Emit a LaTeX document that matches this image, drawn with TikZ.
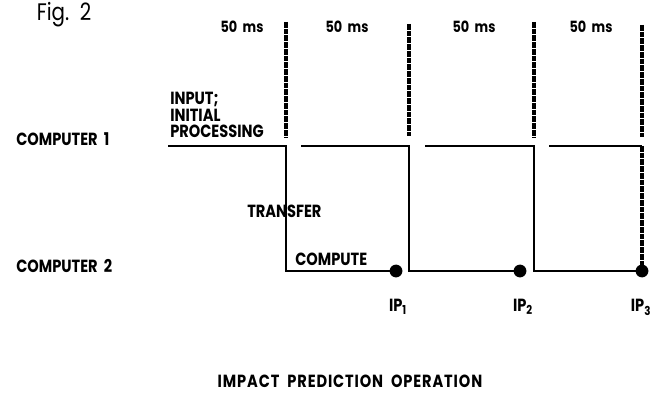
\documentclass[tikz,border=0pt]{standalone}
\usepackage{fontspec}
\setmainfont{Poppins}[FakeStretch=0.83]
\usetikzlibrary{positioning}

\begin{document}
\begin{tikzpicture}[
  x=0.025cm, y=-0.025cm,
  lbl/.style={font=\bfseries\fontsize{12.5}{13}\selectfont, inner sep=0pt, anchor=west},
  tick/.style={font=\bfseries\fontsize{11}{12}\selectfont, inner sep=0pt},
  sig/.style={line width=1.9pt, line join=miter},
  sep/.style={line width=2.2pt, dash pattern=on 4pt off 0.8pt},
  dot/.style={circle, fill, inner sep=0pt, minimum size=0.32cm}
]
\useasboundingbox (0,0) rectangle (663,393);

\node[font=\fontsize{17}{20}\selectfont, inner sep=0pt] (fig) at (64,15) {Fig.~~2};

% time slots
\node[tick] (t1) at (242,27) {50~~ms};
\node[tick] (t2) at (347,27) {50~~ms};
\node[tick] (t3) at (474,27) {50~~ms};
\node[tick] (t4) at (591,27) {50~~ms};

\coordinate (s1t) at (286,22);  \coordinate (s1b) at (286,137);
\coordinate (s2t) at (409,24);  \coordinate (s2b) at (409,136);
\coordinate (s3t) at (534,22);  \coordinate (s3b) at (534,137);
\coordinate (s4t) at (642,25);  \coordinate (s4b) at (642,137);
\draw[sep] (s1t) -- (s1b);
\draw[sep] (s2t) -- (s2b);
\draw[sep] (s3t) -- (s3b);
\draw[sep] (s4t) -- (s4b);

% computer lines
\node[lbl] (c1) at (16,139) {COMPUTER~~1};
\node[lbl] (c2) at (16,266) {COMPUTER~~2};

\coordinate (a0) at (168,146);
\coordinate (a1) at (286,146); \coordinate (b1) at (286,271);
\coordinate (a2s) at (301,146); \coordinate (a2) at (409,146); \coordinate (b2) at (409,271);
\coordinate (a3s) at (425,146); \coordinate (a3) at (534,146); \coordinate (b3) at (534,271);
\coordinate (a4s) at (549,146); \coordinate (a4) at (642,146);

\node[dot] (ip1) at (396,271) {};
\node[dot] (ip2) at (520,271) {};
\node[dot] (ip3) at (642,271) {};

\draw[sig] (a0) -- (a1) -- (b1) -- (ip1.center);
\draw[sig] (a2s) -- (a2) -- (b2) -- (ip2.center);
\draw[sig] (a3s) -- (a3) -- (b3) -- (ip3.center);
\draw[sig] (a4s) -- (a4);
\draw[sep] (a4) -- (ip3.center);

\node[lbl, align=left, font=\bfseries\fontsize{12.5}{11.5}\selectfont] (inp) at (170,115) {INPUT;\\INITIAL\\PROCESSING};
\node[lbl] (xfer) at (247,211) {TRANSFER};
\node[lbl] (comp) at (295,259) {COMPUTE};

\node[lbl, anchor=north] (ip1l) at (398,299) {IP\textsubscript{1}};
\node[lbl, anchor=north] (ip2l) at (523,299) {IP\textsubscript{2}};
\node[lbl, anchor=north] (ip3l) at (641,299) {IP\textsubscript{3}};

\node[lbl, anchor=center, font=\bfseries\fontsize{12.5}{13}\selectfont\addfontfeature{LetterSpace=5}] (title) at (350,381) {IMPACT~~PREDICTION~~OPERATION};
\end{tikzpicture}
\end{document}
